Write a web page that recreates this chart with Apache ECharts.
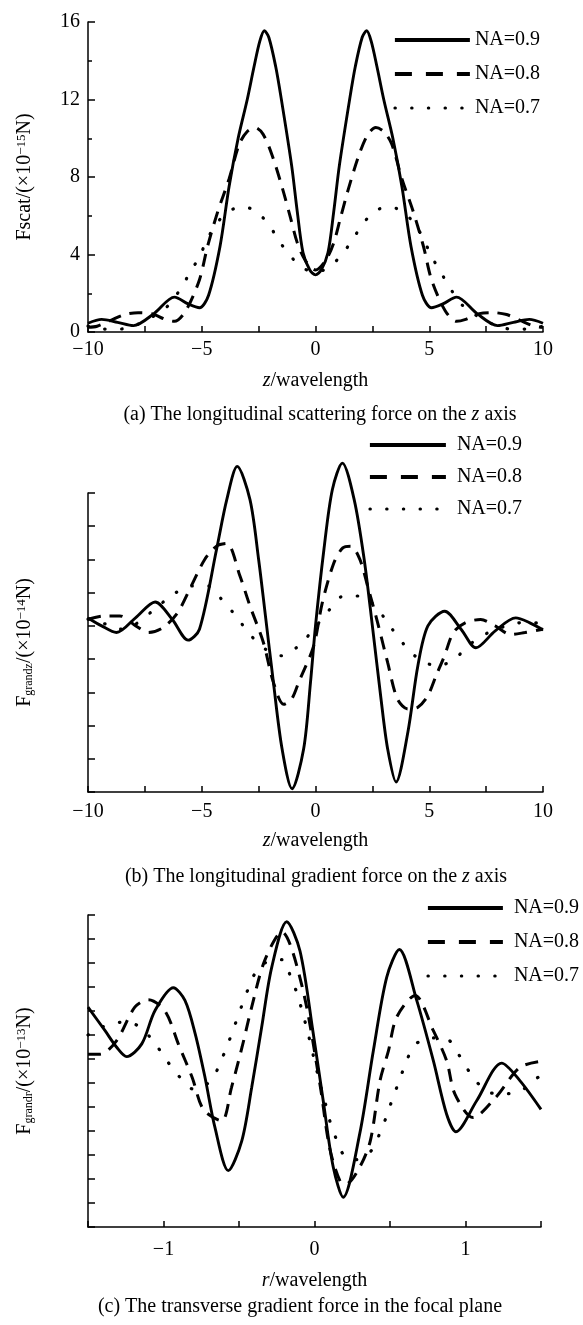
<!DOCTYPE html>
<html lang="en">
<head>
  <meta charset="UTF-8">
  <title>Optical forces for NA=0.9 / 0.8 / 0.7</title>
  <script src="https://cdn.jsdelivr.net/npm/echarts/dist/echarts.min.js"></script>
  <style>
    html, body { margin: 0; padding: 0; background: #fff; }
    #chart { width: 583px; height: 1325px; }
  </style>
</head>
<body>
<div id="chart"></div>
<script>
  var seriesNames = ['NA=0.9', 'NA=0.8', 'NA=0.7'];

  // (a) scattering force on the z axis, [z/wavelength, value x1e-15 N]
  var scatNA09 = [[-10,0.45],[-9.4,0.65],[-8.7,0.5],[-8.0,0.33],[-7.1,0.95],[-6.2,1.8],[-5.6,1.45],[-5.1,1.25],[-4.7,1.9],[-4.2,4.4],[-3.8,7.5],[-3.4,10.0],[-3.0,12.0],[-2.7,13.7],[-2.45,15.0],[-2.25,15.55],[-2.05,15.2],[-1.75,13.7],[-1.5,12.0],[-1.05,8.6],[-0.8,6.2],[-0.55,4.1],[-0.25,3.2],[0,2.95],
                  [0.25,3.2],[0.55,4.1],[0.8,6.2],[1.05,8.6],[1.5,12.0],[1.75,13.7],[2.05,15.2],[2.25,15.55],[2.45,15.0],[2.7,13.7],[3.0,12.0],[3.4,10.0],[3.8,7.5],[4.2,4.4],[4.7,1.9],[5.1,1.25],[5.6,1.45],[6.2,1.8],[7.1,0.95],[8.0,0.33],[8.7,0.5],[9.4,0.65],[10,0.45]];
  var scatNA08 = [[-10,0.25],[-9.6,0.3],[-9.0,0.6],[-8.4,0.9],[-7.8,1.0],[-7.2,0.95],[-6.6,0.65],[-6.2,0.55],[-5.7,1.1],[-5.1,2.7],[-4.75,4.4],[-4.3,6.2],[-3.8,7.9],[-3.35,9.7],[-3.0,10.35],[-2.65,10.55],[-2.3,10.2],[-1.9,9.1],[-1.45,7.4],[-1.1,5.9],[-0.8,4.6],[-0.45,3.7],[0,3.2],
                  [0.45,3.7],[0.8,4.6],[1.1,5.9],[1.45,7.4],[1.9,9.1],[2.3,10.2],[2.65,10.55],[3.0,10.35],[3.35,9.7],[3.8,7.9],[4.3,6.2],[4.75,4.4],[5.1,2.7],[5.7,1.1],[6.2,0.55],[6.6,0.65],[7.2,0.95],[7.8,1.0],[8.4,0.9],[9.0,0.6],[9.6,0.3],[10,0.25]];
  var scatNA07 = [[-10,0.3],[-9.3,0.15],[-8.6,0.15],[-7.8,0.4],[-7.0,0.9],[-6.4,1.45],[-5.9,2.3],[-5.5,3.1],[-5.1,3.9],[-4.75,4.8],[-4.35,5.6],[-3.9,6.15],[-3.55,6.38],[-3.2,6.45],[-2.8,6.35],[-2.4,6.0],[-2.05,5.55],[-1.6,4.7],[-1.05,3.85],[-0.55,3.3],[0,3.1],
                  [0.55,3.3],[1.05,3.85],[1.6,4.7],[2.05,5.55],[2.4,6.0],[2.8,6.35],[3.2,6.45],[3.55,6.38],[3.9,6.15],[4.35,5.6],[4.75,4.8],[5.1,3.9],[5.5,3.1],[5.9,2.3],[6.4,1.45],[7.0,0.9],[7.8,0.4],[8.6,0.15],[9.3,0.15],[10,0.3]];

  // (b) longitudinal gradient force, arbitrary units on the unlabeled axis
  var gradzNA09 = [[-10,0.24],[-9.4,0.0],[-8.75,-0.2],[-7.9,0.25],[-7.05,0.72],[-6.3,0.2],[-5.6,-0.43],[-5.1,-0.1],[-4.35,2.3],[-3.9,3.8],[-3.44,4.8],[-2.88,3.8],[-2.5,2.0],[-2.2,0.3],[-1.85,-1.7],[-1.47,-3.7],[-1.03,-4.9],[-0.52,-3.7],[-0.22,-1.7],[0,0],[0.37,2.3],[0.74,4.1],[1.18,4.9],[1.7,3.8],[2.14,2.0],[2.5,0],[2.88,-2.2],[3.17,-3.7],[3.54,-4.7],[4.06,-3.2],[4.5,-1.2],[4.94,0],[5.68,0.44],[6.4,-0.1],[7.05,-0.66],[7.9,-0.15],[8.8,0.24],[9.4,0.1],[10,-0.12]];
  var gradzNA08 = [[-10,0.2],[-9.3,0.3],[-8.6,0.3],[-7.9,0.0],[-7.35,-0.2],[-6.7,-0.05],[-6.06,0.4],[-5.46,1.2],[-4.87,2.0],[-4.35,2.4],[-3.9,2.48],[-3.32,1.5],[-2.88,0.6],[-2.29,-0.5],[-1.85,-1.7],[-1.4,-2.36],[-1.05,-2.2],[-0.74,-1.7],[-0.08,-0.6],[0.3,0.7],[0.81,1.9],[1.2,2.35],[1.55,2.4],[1.95,2.0],[2.29,1.2],[2.73,0.1],[3.17,-1.1],[3.6,-2.2],[4.06,-2.5],[4.5,-2.45],[4.94,-2.1],[5.3,-1.5],[5.67,-0.9],[6.06,-0.2],[6.6,0.1],[7.26,0.19],[7.9,0.0],[8.58,-0.26],[9.2,-0.2],[10,-0.1]];
  var gradzNA07 = [[-10,0.2],[-9.2,0.05],[-8.5,-0.1],[-7.8,0.1],[-7.08,0.5],[-6.34,0.9],[-5.53,1.2],[-4.72,1.2],[-4.13,0.8],[-3.5,0.3],[-2.88,-0.26],[-2.2,-0.7],[-1.47,-0.9],[-0.74,-0.6],[-0.08,-0.1],[0.52,0.41],[1.25,0.9],[2.0,0.9],[2.73,0.5],[3.32,-0.05],[3.94,-0.6],[4.65,-1.05],[5.4,-1.2],[6.1,-1.0],[6.8,-0.55],[7.6,-0.2],[8.4,0.0],[9.1,0.1],[10,0.08]];

  // (c) transverse gradient force in the focal plane, [r/wavelength, value]
  var gradrNA09 = [[-1.5,2.16],[-1.387,1.18],[-1.31,0.49],[-1.244,0.1],[-1.144,0.63],[-1.056,2.02],[-0.935,2.97],[-0.858,2.44],[-0.79,1.05],[-0.725,-0.77],[-0.659,-2.86],[-0.571,-4.65],[-0.482,-3.42],[-0.416,-1.19],[-0.35,1.32],[-0.283,3.83],[-0.184,5.72],[-0.096,4.5],[-0.008,1.05],[0.058,-1.75],[0.124,-4.5],[0.19,-5.76],[0.3,-3.1],[0.39,0.35],[0.478,3.4],[0.562,4.56],[0.677,2.44],[0.787,-0.07],[0.875,-2.3],[0.937,-3.03],[1.074,-1.74],[1.24,-0.17],[1.36,-0.9],[1.5,-2.1]];
  var gradrNA08 = [[-1.5,0.2],[-1.42,0.2],[-1.31,0.77],[-1.19,2.16],[-1.1,2.47],[-0.99,2.0],[-0.9,0.6],[-0.81,-0.77],[-0.736,-2.1],[-0.615,-2.58],[-0.55,-1.19],[-0.48,0.49],[-0.416,2.16],[-0.33,4.1],[-0.217,5.3],[-0.085,3.1],[0.036,-1.05],[0.1,-3.7],[0.17,-5.1],[0.21,-5.2],[0.3,-4.5],[0.37,-3.4],[0.434,-0.9],[0.49,0.35],[0.544,1.74],[0.666,2.65],[0.787,1.18],[0.875,-0.07],[0.93,-1.46],[1.05,-2.44],[1.2,-1.6],[1.36,-0.35],[1.5,-0.1]];
  var gradrNA07 = [[-1.5,1.0],[-1.4,1.35],[-1.28,1.53],[-1.17,1.39],[-1.07,0.77],[-0.99,0.04],[-0.9,-0.7],[-0.8,-1.26],[-0.685,-0.91],[-0.626,-0.17],[-0.575,0.6],[-0.531,1.35],[-0.489,2.09],[-0.445,2.83],[-0.394,3.56],[-0.3,4.1],[-0.213,4.14],[-0.156,3.39],[-0.111,2.65],[-0.078,1.9],[-0.047,1.18],[0.036,-1.02],[0.07,-1.8],[0.1,-2.55],[0.142,-3.3],[0.197,-4.03],[0.27,-4.2],[0.379,-3.8],[0.434,-3.07],[0.478,-2.37],[0.518,-1.63],[0.562,-0.9],[0.606,-0.14],[0.666,0.6],[0.776,0.88],[0.875,0.84],[0.964,0.1],[1.04,-0.67],[1.14,-1.35],[1.25,-1.45],[1.36,-1.35],[1.47,-0.81],[1.5,-0.7]];

  var FONT = 'Liberation Serif';
  var lineStyles = [
    { color: '#000', width: 2.9, type: 'solid' },
    { color: '#000', width: 3, type: [13, 9] },
    { color: '#000', width: 3.2, type: [0.5, 16.5], cap: 'round' }
  ];

  function minus(v) { return v < 0 ? '\u2212' + (-v) : '' + v; }

  var tickStyle = { color: '#000', width: 1.5 };
  var richText = {
    sup: { fontFamily: FONT, fontSize: 13, verticalAlign: 'top', color: '#000' },
    sub: { fontFamily: FONT, fontSize: 12, verticalAlign: 'bottom', color: '#000' },
    i: { fontFamily: FONT, fontSize: 20, fontStyle: 'italic', color: '#000' }
  };

  function xAxis(idx, min, max, interval, name, fmt, gap, margin) {
    return {
      type: 'value', gridIndex: idx, min: min, max: max, interval: interval,
      name: name, nameLocation: 'middle', nameGap: gap,
      nameTextStyle: { fontFamily: FONT, fontSize: 20, color: '#000', rich: richText },
      axisLine: { onZero: false, lineStyle: tickStyle },
      axisTick: { inside: true, length: 6, lineStyle: tickStyle },
      minorTick: { show: interval === 5, splitNumber: 2, length: 6, lineStyle: tickStyle },
      splitLine: { show: false },
      axisLabel: { fontFamily: FONT, fontSize: 20, color: '#000', margin: margin, formatter: fmt }
    };
  }

  function yAxis(idx, min, max, interval, name, labels) {
    return {
      type: 'value', gridIndex: idx, min: min, max: max, interval: interval,
      name: name, nameLocation: 'middle', nameRotate: 90, nameGap: 53,
      nameTextStyle: { fontFamily: FONT, fontSize: 20, color: '#000', rich: richText },
      axisLine: { onZero: false, lineStyle: tickStyle },
      axisTick: { inside: true, length: 7, lineStyle: tickStyle },
      minorTick: { show: labels, splitNumber: 2, length: 4, lineStyle: tickStyle },
      splitLine: { show: false },
      axisLabel: { show: labels, fontFamily: FONT, fontSize: 20, color: '#000', margin: 8 }
    };
  }

  function legendItems() {
    var hide = { opacity: 0, color: 'transparent', borderWidth: 0 };
    return [
      { name: seriesNames[0], itemStyle: hide, lineStyle: { width: 3.8, type: 'solid', color: '#000' } },
      { name: seriesNames[1], itemStyle: hide, lineStyle: { width: 3.8, type: [17, 14], color: '#000' } },
      { name: seriesNames[2], itemStyle: hide, lineStyle: { width: 3, type: [0.5, 16.2], cap: 'round', color: '#000' } }
    ];
  }

  function legend(left, top, width, gap, pad) {
    return {
      data: legendItems(), orient: 'vertical', left: left, top: top, padding: 0,
      itemWidth: width, itemHeight: 20, itemGap: gap, selectedMode: false,
      textStyle: { fontFamily: FONT, fontSize: 20, color: '#000', padding: [0, 0, 0, pad] }
    };
  }

  var panels = [
    [scatNA09, scatNA08, scatNA07],
    [gradzNA09, gradzNA08, gradzNA07],
    [gradrNA09, gradrNA08, gradrNA07]
  ];
  var series = [];
  panels.forEach(function (sets, p) {
    sets.forEach(function (data, k) {
      series.push({
        type: 'line', name: seriesNames[k], xAxisIndex: p, yAxisIndex: p,
        data: data, smooth: 0.3, symbol: 'none', showSymbol: false, clip: false,
        itemStyle: { color: '#000' },
        lineStyle: lineStyles[k]
      });
    });
  });

  function caption(x, y, text) {
    return {
      type: 'text', x: x, y: y,
      style: { text: text, fontFamily: FONT, fontSize: 20, fill: '#000',
               align: 'center', verticalAlign: 'middle', rich: richText }
    };
  }

  var chart = echarts.init(document.getElementById('chart'));
  chart.setOption({
    animation: false,
    backgroundColor: '#fff',
    grid: [
      { left: 88, top: 22, width: 455, height: 310 },
      { left: 88, top: 493, width: 455, height: 299 },
      { left: 88, top: 915, width: 453, height: 312 }
    ],
    xAxis: [
      xAxis(0, -10, 10, 5, '{i|z}/wavelength', minus, 39, 8),
      xAxis(1, -10, 10, 5, '{i|z}/wavelength', minus, 39, 10),
      xAxis(2, -1.5, 1.5, 0.5, '{i|r}/wavelength',
        function (v) { return Number.isInteger(v) ? minus(v) : ''; }, 44, 13)
    ],
    yAxis: [
      yAxis(0, 0, 16, 4, 'Fscat/(\u00d710{sup|\u221215}N)', true),
      yAxis(1, -5, 4, 1, 'F{sub|grandz}/(\u00d710{sup|\u221214}N)', false),
      yAxis(2, -7, 6, 1, 'F{sub|grandr}/(\u00d710{sup|\u221213}N)', false)
    ],
    legend: [
      legend(393, 30, 75, 14, 0),
      legend(368, 435, 76, 12, 6),
      legend(426, 898, 75, 14, 6)
    ],
    series: series,
    graphic: [
      caption(320, 415, '(a) The longitudinal scattering force on the {i|z} axis'),
      caption(316, 877, '(b) The longitudinal gradient force on the {i|z} axis'),
      caption(300, 1307, '(c) The transverse gradient force in the focal plane')
    ]
  });
</script>
</body>
</html>
